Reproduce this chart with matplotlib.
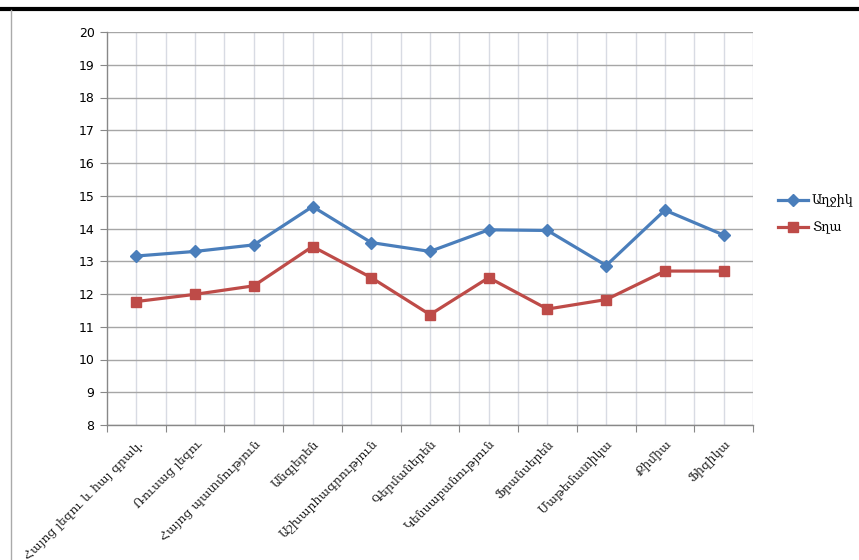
import matplotlib
matplotlib.use("Agg")
import matplotlib.pyplot as plt
from matplotlib.lines import Line2D
from matplotlib.ticker import FixedLocator, NullFormatter

categories = ["Հայոց լեզու և հայ գրակ.", "Ռուսաց լեզու", "Հայոց պատմություն",
              "Անգլերեն", "Աշխարհագրություն", "Գերմաներեն", "Կենսաբանություն",
              "Ֆրանսերեն", "Մաթեմատիկա", "Քիմիա", "Ֆիզիկա"]
girls = [13.16, 13.3, 13.5, 14.67, 13.57, 13.3, 13.96, 13.94, 12.87, 14.56, 13.8]
boys = [11.77, 11.99, 12.25, 13.45, 12.5, 11.37, 12.5, 11.54, 11.83, 12.7, 12.7]
series_names = ["Աղջիկ", "Տղա"]
yticks = list(range(8, 21))

fig = plt.figure(figsize=(8.59, 5.6), dpi=100)
ax = fig.add_axes([107/859, 1-425/560, 646/859, 393/560])

x = list(range(len(categories)))
ax.plot(x, girls, color="#4A7EBB", lw=2.3, marker="D", markersize=6, label=series_names[0], zorder=3)
ax.plot(x, boys, color="#BE4B48", lw=2.3, marker="s", markersize=7.5, label=series_names[1], zorder=3)

ax.set_xlim(-0.5, len(categories) - 0.5)
ax.set_ylim(8, 20)
ax.set_yticks(yticks)
ax.set_yticklabels([str(t) for t in yticks], fontsize=9, family="DejaVu Sans")

# horizontal grid
for t in yticks:
    ax.axhline(t, color="#a6a6a6", lw=1.0, zorder=1)
# vertical grid at boundaries and centers
bounds = [i - 0.5 for i in range(len(categories) + 1)]
for b in bounds[1:]:
    ax.axvline(b, color="#d8dbe3", lw=1.0, zorder=0.5)
for c in x:
    ax.axvline(c, color="#d8dbe3", lw=1.0, zorder=0.5)

ax.xaxis.set_major_locator(FixedLocator(bounds))
ax.xaxis.set_major_formatter(NullFormatter())
ax.tick_params(axis="x", length=5, color="#888888", direction="out")
ax.tick_params(axis="y", length=5, color="#888888", direction="out", pad=4)

for s in ["top", "right"]:
    ax.spines[s].set_visible(False)
for s in ["left", "bottom"]:
    ax.spines[s].set_color("#888888")
    ax.spines[s].set_linewidth(1.0)

for i, lab in enumerate(categories):
    ax.annotate(lab, xy=(i, 8), xycoords="data", xytext=(3, -12), textcoords="offset points",
                rotation=45, ha="right", va="center", rotation_mode="anchor",
                fontsize=8.9, family=["DejaVu Serif", "DejaVu Sans"], color="#222222")

handles = [Line2D([0], [0], color="#4A7EBB", lw=2.3, marker="D", markersize=6),
           Line2D([0], [0], color="#BE4B48", lw=2.3, marker="s", markersize=7.5)]
fig.legend(handles, series_names, loc="upper left", bbox_to_anchor=(766/859, 1-183/560),
           frameon=False, prop={"family": ["DejaVu Serif", "DejaVu Sans"], "size": 9.2},
           handlelength=2.4, handletextpad=0.3, labelspacing=1.1)

# frame lines
fig.add_artist(Line2D([0, 1], [1-9/560, 1-9/560], color="black", lw=3, transform=fig.transFigure))
fig.add_artist(Line2D([11/859, 11/859], [0, 1-10/560], color="#aaaaaa", lw=1, transform=fig.transFigure))

fig.savefig("out.png", dpi=100)
